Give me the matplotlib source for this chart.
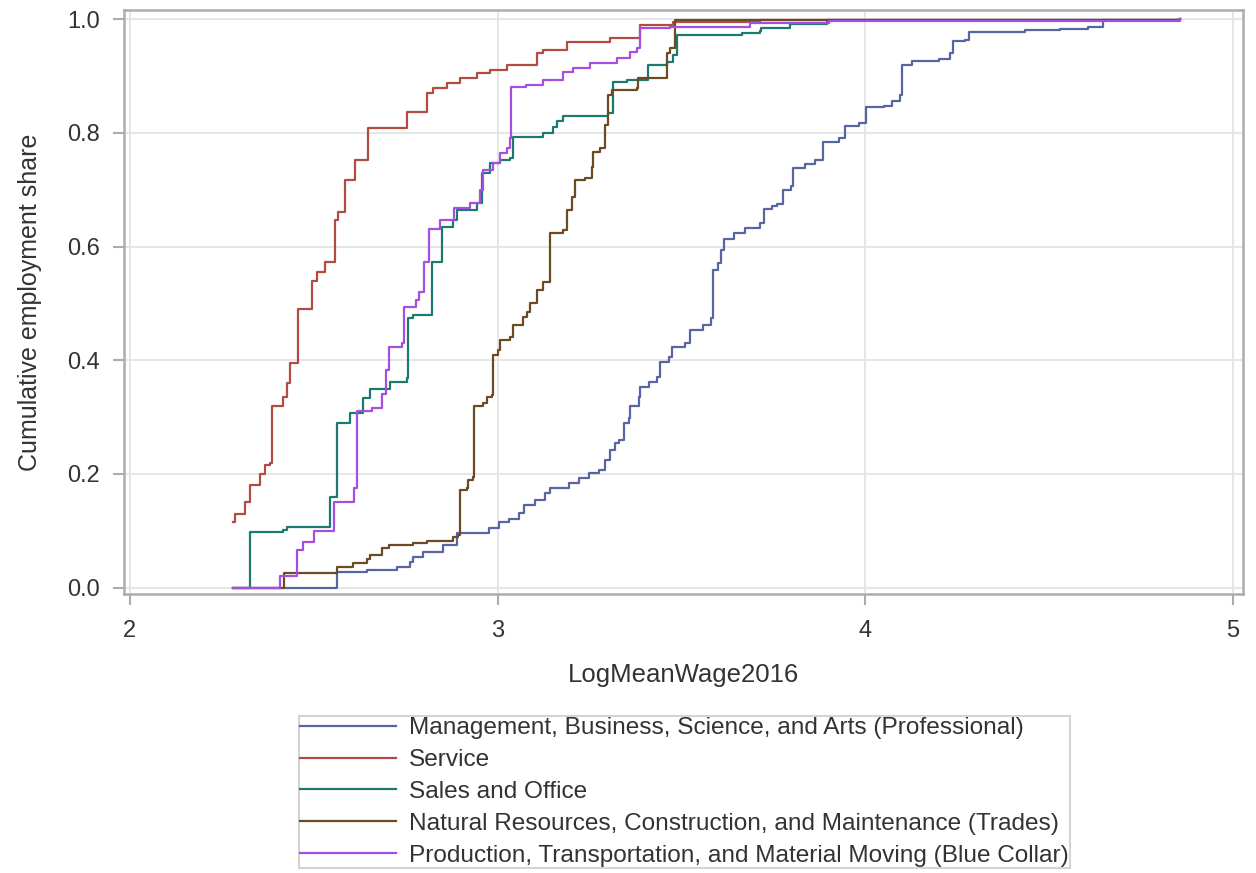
import matplotlib
matplotlib.use('Agg')
import matplotlib.pyplot as plt

# step points: x = log mean wage, y = cumulative share after the step
prof_x = [2.280, 2.563, 2.644, 2.726, 2.761, 2.770, 2.797, 2.851, 2.889, 2.976, 3.003, 3.030,
          3.057, 3.071, 3.101, 3.128, 3.142, 3.194, 3.221, 3.248, 3.275, 3.292, 3.305, 3.319,
          3.330, 3.343, 3.357, 3.360, 3.384, 3.387, 3.411, 3.433, 3.441, 3.466, 3.474, 3.509,
          3.523, 3.558, 3.580, 3.585, 3.599, 3.607, 3.615, 3.642, 3.674, 3.713, 3.724, 3.746,
          3.759, 3.776, 3.797, 3.803, 3.835, 3.862, 3.884, 3.927, 3.944, 3.982, 4.001, 4.050,
          4.072, 4.093, 4.099, 4.126, 4.200, 4.231, 4.237, 4.270, 4.281, 4.433, 4.528, 4.604,
          4.647, 4.856]
prof_y = [0.000, 0.028, 0.031, 0.037, 0.046, 0.054, 0.063, 0.075, 0.097, 0.105, 0.116, 0.120,
          0.132, 0.146, 0.155, 0.167, 0.176, 0.185, 0.193, 0.202, 0.207, 0.225, 0.243, 0.255,
          0.260, 0.290, 0.299, 0.320, 0.336, 0.353, 0.362, 0.371, 0.397, 0.406, 0.424, 0.430,
          0.453, 0.462, 0.474, 0.559, 0.571, 0.594, 0.613, 0.624, 0.633, 0.641, 0.666, 0.672,
          0.675, 0.700, 0.707, 0.738, 0.745, 0.752, 0.784, 0.791, 0.812, 0.817, 0.845, 0.847,
          0.856, 0.866, 0.919, 0.926, 0.930, 0.940, 0.961, 0.963, 0.977, 0.980, 0.982, 0.986,
          0.998, 1.000]

serv_x = [2.280, 2.286, 2.313, 2.326, 2.354, 2.367, 2.381, 2.386, 2.416, 2.427, 2.435, 2.457,
          2.495, 2.508, 2.530, 2.558, 2.566, 2.585, 2.612, 2.647, 2.754, 2.808, 2.824, 2.862,
          2.897, 2.944, 2.979, 3.025, 3.107, 3.123, 3.188, 3.305, 3.387, 3.477, 3.713, 4.856]
serv_y = [0.115, 0.130, 0.150, 0.180, 0.200, 0.216, 0.220, 0.320, 0.336, 0.360, 0.395, 0.490,
          0.540, 0.555, 0.573, 0.647, 0.660, 0.717, 0.752, 0.808, 0.837, 0.870, 0.879, 0.888,
          0.896, 0.905, 0.910, 0.919, 0.940, 0.945, 0.960, 0.967, 0.990, 0.995, 0.998, 1.000]

sales_x = [2.280, 2.326, 2.416, 2.427, 2.544, 2.563, 2.598, 2.634, 2.653, 2.707, 2.753, 2.756,
           2.770, 2.821, 2.849, 2.878, 2.889, 2.943, 2.957, 2.979, 3.006, 3.033, 3.042, 3.123,
           3.150, 3.161, 3.178, 3.300, 3.314, 3.352, 3.409, 3.460, 3.477, 3.488, 3.664, 3.713,
           3.716, 3.796, 3.896, 4.856]
sales_y = [0.000, 0.098, 0.102, 0.107, 0.160, 0.290, 0.307, 0.334, 0.350, 0.362, 0.369, 0.474,
           0.480, 0.573, 0.635, 0.647, 0.664, 0.677, 0.730, 0.747, 0.752, 0.756, 0.793, 0.800,
           0.810, 0.820, 0.830, 0.835, 0.890, 0.893, 0.920, 0.924, 0.937, 0.972, 0.975, 0.979,
           0.984, 0.991, 0.998, 1.000]

trades_x = [2.280, 2.418, 2.563, 2.606, 2.644, 2.653, 2.685, 2.704, 2.770, 2.808, 2.878, 2.892,
            2.897, 2.916, 2.919, 2.933, 2.935, 2.960, 2.971, 2.984, 2.987, 3.000, 3.006, 3.033,
            3.042, 3.069, 3.079, 3.088, 3.107, 3.123, 3.142, 3.178, 3.189, 3.202, 3.210, 3.237,
            3.256, 3.259, 3.278, 3.292, 3.300, 3.311, 3.379, 3.382, 3.460, 3.468, 3.482, 4.856]
trades_y = [0.000, 0.026, 0.037, 0.044, 0.050, 0.058, 0.070, 0.075, 0.079, 0.082, 0.090, 0.093,
            0.172, 0.176, 0.190, 0.195, 0.320, 0.325, 0.336, 0.339, 0.410, 0.418, 0.436, 0.441,
            0.462, 0.476, 0.485, 0.500, 0.524, 0.538, 0.624, 0.629, 0.664, 0.687, 0.717, 0.720,
            0.740, 0.766, 0.773, 0.814, 0.866, 0.875, 0.879, 0.896, 0.940, 0.949, 0.998, 1.000]

prod_x = [2.280, 2.408, 2.454, 2.470, 2.500, 2.555, 2.609, 2.617, 2.658, 2.685, 2.696, 2.704,
          2.740, 2.745, 2.777, 2.785, 2.799, 2.813, 2.843, 2.881, 2.925, 2.952, 2.960, 2.987,
          3.006, 3.025, 3.033, 3.036, 3.077, 3.123, 3.178, 3.205, 3.251, 3.325, 3.360, 3.379,
          3.387, 3.468, 3.686, 3.900, 4.856]
prod_y = [0.000, 0.020, 0.067, 0.080, 0.100, 0.150, 0.175, 0.310, 0.316, 0.340, 0.383, 0.424,
          0.430, 0.494, 0.506, 0.520, 0.573, 0.630, 0.647, 0.668, 0.677, 0.700, 0.735, 0.747,
          0.764, 0.773, 0.790, 0.880, 0.884, 0.893, 0.907, 0.914, 0.923, 0.931, 0.942, 0.949,
          0.984, 0.986, 0.993, 0.997, 1.000]

labels = ['Management, Business, Science, and Arts (Professional)',
          'Service',
          'Sales and Office',
          'Natural Resources, Construction, and Maintenance (Trades)',
          'Production, Transportation, and Material Moving (Blue Collar)']
colors = ['#5566A3', '#B04C40', '#1B7A70', '#6B4A24', '#A64EE0']

plt.rcParams['font.family'] = ['Liberation Sans', 'DejaVu Sans']

fig = plt.figure(figsize=(12.56, 8.73), dpi=100)
ax = fig.add_axes([0.0987, 0.3196, 0.891, 0.669])

series = [(prof_x, prof_y), (serv_x, serv_y), (sales_x, sales_y),
          (trades_x, trades_y), (prod_x, prod_y)]
for (xs, ys), lab, col in zip(series, labels, colors):
  ax.step(xs, ys, where='post', color=col, lw=1.6, label=lab)

ax.set_xlim(1.984, 5.027)
ax.set_ylim(-0.011, 1.016)
ax.set_xticks([2, 3, 4, 5])
ax.set_yticks([0.0, 0.2, 0.4, 0.6, 0.8, 1.0])
ax.set_yticklabels(['0.0', '0.2', '0.4', '0.6', '0.8', '1.0'])
ax.grid(color='#E4E4E4', lw=1.3)
ax.set_axisbelow(True)
for s in ax.spines.values():
  s.set_color('#A8ADB2')
  s.set_linewidth(1.8)
ax.tick_params(colors='#A8ADB2', labelcolor='#333333', labelsize=17, length=8, width=1.5)
ax.tick_params(axis='x', pad=11)
ax.tick_params(axis='y', pad=9)

ax.set_xlabel('LogMeanWage2016', fontsize=18.5, color='#333333', labelpad=15)
ax.set_ylabel('Cumulative employment share', fontsize=18, color='#333333', labelpad=18)

leg = fig.legend(loc='upper center', bbox_to_anchor=(0.545, 0.180), fontsize=17.6,
                 frameon=True, fancybox=False, edgecolor='#D4D4D4', framealpha=1,
                 handlelength=3.9, handletextpad=0.55, labelspacing=0.40, borderpad=0.05,
                 borderaxespad=0, labelcolor='#333333')
leg.get_frame().set_linewidth(1.5)
for h in leg.legend_handles:
  h.set_linewidth(1.6)

fig.savefig('out.png', dpi=100)
